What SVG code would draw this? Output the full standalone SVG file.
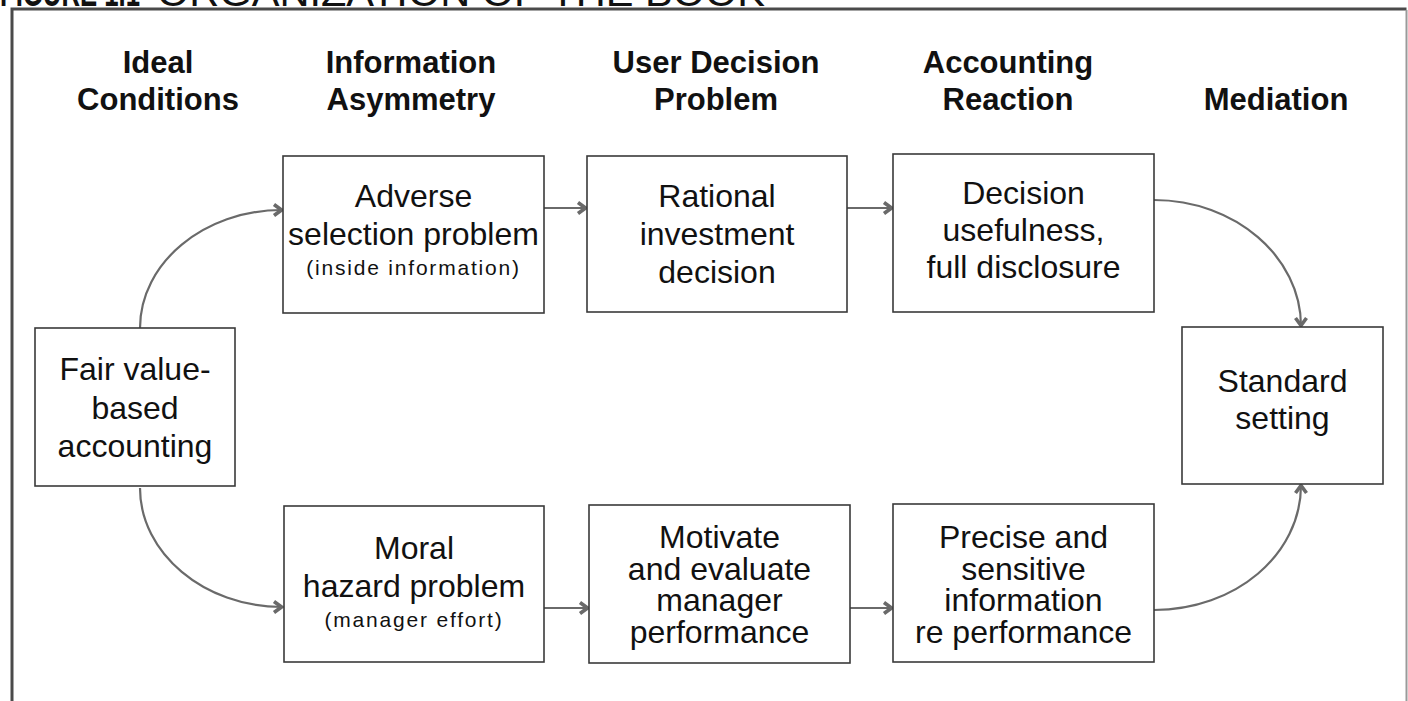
<svg xmlns="http://www.w3.org/2000/svg" width="1408" height="701" viewBox="0 0 1408 701">
  <style>
    .hdr { font-family: "Liberation Sans", Arial, sans-serif; font-weight: bold; font-size: 31px; fill: #111; text-anchor: middle; }
    .lbl { font-family: "Liberation Sans", Arial, sans-serif; font-size: 32px; fill: #111; text-anchor: middle; }
    .sub { font-family: "Liberation Sans", Arial, sans-serif; font-size: 21px; letter-spacing: 1.8px; fill: #111; text-anchor: middle; }
    .box { fill: #fff; stroke: #3a3a3a; stroke-width: 1.6; }
    .conn { fill: none; stroke: #6a6a6a; stroke-width: 2.2; }
    .title { font-family: "Liberation Sans", Arial, sans-serif; font-size: 40px; fill: #111; }
  </style>
  <defs>
    <marker id="arr" viewBox="0 0 14 14" refX="12" refY="7" markerWidth="14" markerHeight="14" orient="auto" markerUnits="userSpaceOnUse">
      <path d="M4,1.5 L11.5,7 L4,12.5" fill="none" stroke="#6a6a6a" stroke-width="3.6" stroke-linejoin="miter"/>
    </marker>
  </defs>

  <rect width="1408" height="701" fill="#fff"/>

  <!-- figure caption, running off the top edge -->
  <text class="title" x="0" y="6" font-weight="bold" textLength="140" lengthAdjust="spacingAndGlyphs">FIGURE 1.1</text>
  <text class="title" x="157" y="6" textLength="608" lengthAdjust="spacingAndGlyphs">ORGANIZATION OF THE BOOK</text>

  <!-- outer frame -->
  <path d="M12,720 L12,9 L1406.5,9" fill="none" stroke="#4a4a4a" stroke-width="3"/>
  <path d="M1406.5,10 L1406.5,720" fill="none" stroke="#9a9a9a" stroke-width="2"/>

  <!-- column headings -->
  <g id="headings">
    <text class="hdr" x="158" y="73">Ideal</text>
    <text class="hdr" x="158" y="110">Conditions</text>
    <text class="hdr" x="411" y="73">Information</text>
    <text class="hdr" x="411" y="110">Asymmetry</text>
    <text class="hdr" x="716" y="73">User Decision</text>
    <text class="hdr" x="716" y="110">Problem</text>
    <text class="hdr" x="1008" y="73">Accounting</text>
    <text class="hdr" x="1008" y="110">Reaction</text>
    <text class="hdr" x="1276" y="110">Mediation</text>
  </g>

  <!-- connectors -->
  <g id="connectors">
    <path class="conn" marker-end="url(#arr)" d="M140,328 C140,263 204,210 282,210"/>
    <path class="conn" marker-end="url(#arr)" d="M140,488 C140,553 204,607 282,607"/>
    <path class="conn" marker-end="url(#arr)" d="M544,208 L586,208"/>
    <path class="conn" marker-end="url(#arr)" d="M847,208 L892,208"/>
    <path class="conn" marker-end="url(#arr)" d="M544,608 L588,608"/>
    <path class="conn" marker-end="url(#arr)" d="M850,608 L892,608"/>
    <path class="conn" marker-end="url(#arr)" d="M1154,200 C1235,200 1301,257 1301,326"/>
    <path class="conn" marker-end="url(#arr)" d="M1154,610 C1235,610 1301,555 1301,485"/>
  </g>

  <g id="fair-value">
    <rect class="box" x="35" y="328" width="200" height="158"/>
    <text class="lbl" x="135" y="380">Fair value-</text>
    <text class="lbl" x="135" y="419">based</text>
    <text class="lbl" x="135" y="457">accounting</text>
  </g>

  <g id="adverse-selection">
    <rect class="box" x="283" y="156" width="261" height="157"/>
    <text class="lbl" x="413.5" y="207">Adverse</text>
    <text class="lbl" x="413.5" y="245">selection problem</text>
    <text class="sub" x="413.5" y="275">(inside information)</text>
  </g>

  <g id="rational-investment">
    <rect class="box" x="587" y="156" width="260" height="156"/>
    <text class="lbl" x="717" y="207">Rational</text>
    <text class="lbl" x="717" y="245">investment</text>
    <text class="lbl" x="717" y="283">decision</text>
  </g>

  <g id="decision-usefulness">
    <rect class="box" x="893" y="154" width="261" height="158"/>
    <text class="lbl" x="1023.5" y="204">Decision</text>
    <text class="lbl" x="1023.5" y="241">usefulness,</text>
    <text class="lbl" x="1023.5" y="278">full disclosure</text>
  </g>

  <g id="standard-setting">
    <rect class="box" x="1182" y="327" width="201" height="157"/>
    <text class="lbl" x="1282.5" y="392">Standard</text>
    <text class="lbl" x="1282.5" y="429">setting</text>
  </g>

  <g id="moral-hazard">
    <rect class="box" x="284" y="506" width="260" height="156"/>
    <text class="lbl" x="414" y="559">Moral</text>
    <text class="lbl" x="414" y="597">hazard problem</text>
    <text class="sub" x="414" y="627">(manager effort)</text>
  </g>

  <g id="motivate-evaluate">
    <rect class="box" x="589" y="505" width="261" height="158"/>
    <text class="lbl" x="719.5" y="548">Motivate</text>
    <text class="lbl" x="719.5" y="580">and evaluate</text>
    <text class="lbl" x="719.5" y="611">manager</text>
    <text class="lbl" x="719.5" y="643">performance</text>
  </g>

  <g id="precise-sensitive">
    <rect class="box" x="893" y="504" width="261" height="158"/>
    <text class="lbl" x="1023.5" y="548">Precise and</text>
    <text class="lbl" x="1023.5" y="580">sensitive</text>
    <text class="lbl" x="1023.5" y="611">information</text>
    <text class="lbl" x="1023.5" y="643">re performance</text>
  </g>
</svg>
